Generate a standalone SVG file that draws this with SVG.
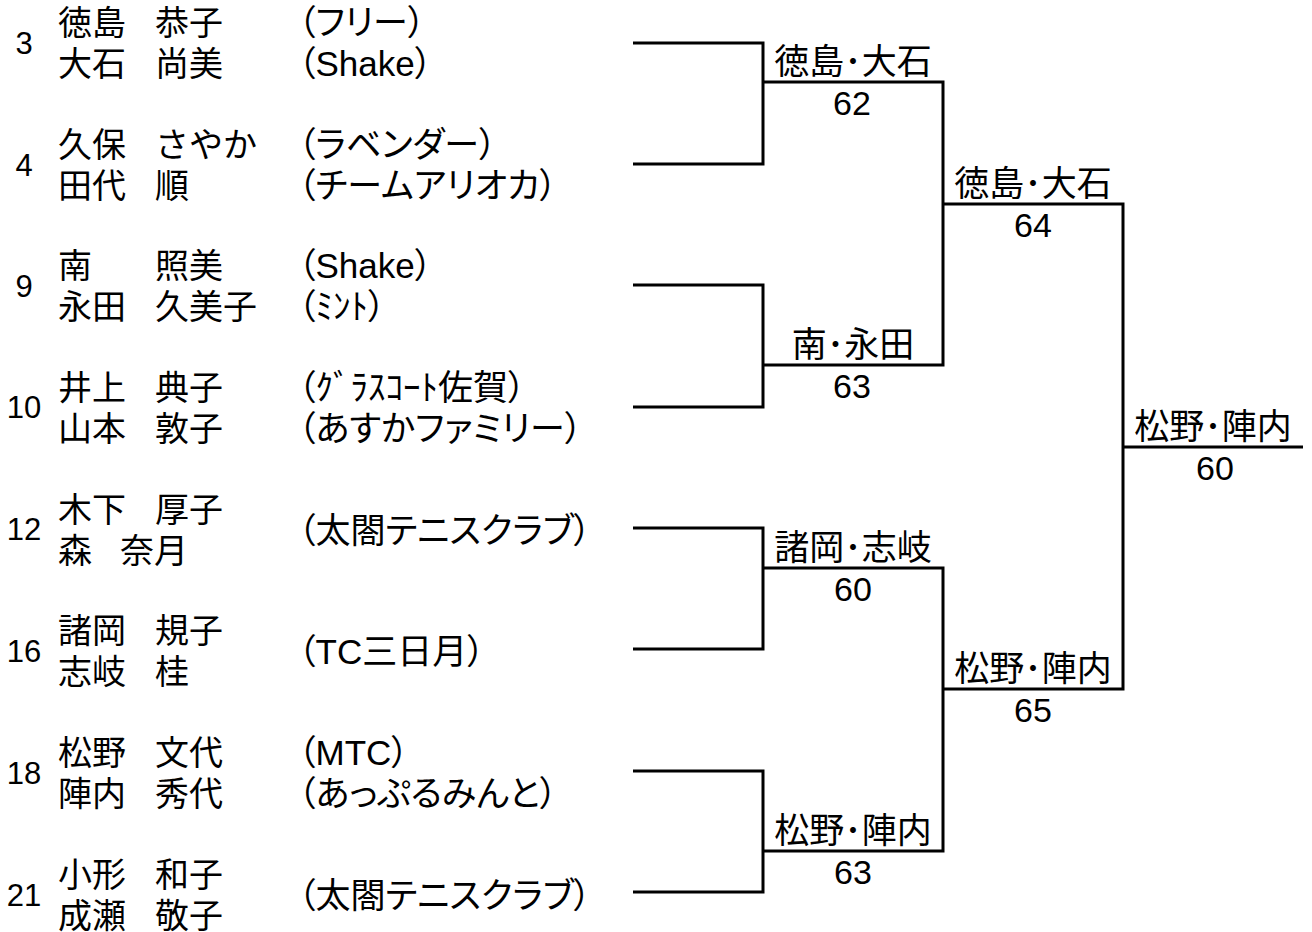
<svg xmlns="http://www.w3.org/2000/svg" width="1312" height="932" viewBox="0 0 1312 932">
<style>
text{fill:#000;font-family:"Liberation Sans","Noto Sans CJK JP",sans-serif}
.num{font-size:31px;text-anchor:middle}
.nm{font-size:34px;font-family:"Noto Sans CJK JP",sans-serif}
.af{font-size:35px;font-feature-settings:"palt"}
.win{font-size:35px;text-anchor:middle;font-family:"Noto Sans CJK JP",sans-serif}
.sc{font-size:34px;text-anchor:middle}
#connectors path{fill:none;stroke:#000;stroke-width:3;stroke-linejoin:miter;stroke-linecap:butt}
</style>
<rect width="1312" height="932" fill="#fff"/>
<g id="connectors">
<path d="M633 43H763V164H633"/>
<path d="M633 285H763V407H633"/>
<path d="M633 528H763V649H633"/>
<path d="M633 771H763V892H633"/>
<path d="M763 82H943V365H763"/>
<path d="M763 568H943V851H763"/>
<path d="M943 204H1123V689H943"/>
<path d="M1123 447H1303"/>
</g>
<g id="entry-3">
<text class="num" x="24" y="54">3</text>
<text class="nm" x="58" y="35">徳島 <tspan x="155">恭子</tspan></text>
<text class="nm" x="58" y="76">大石 <tspan x="155">尚美</tspan></text>
<text class="af" x="298" y="35">（フリー）</text>
<text class="af" x="298" y="76">（Shake）</text>
</g>
<g id="entry-4">
<text class="num" x="24" y="176">4</text>
<text class="nm" x="58" y="157">久保 <tspan x="155">さやか</tspan></text>
<text class="nm" x="58" y="198">田代 <tspan x="155">順</tspan></text>
<text class="af" x="298" y="157">（ラベンダー）</text>
<text class="af" x="298" y="198">（チームアリオカ）</text>
</g>
<g id="entry-9">
<text class="num" x="24" y="297">9</text>
<text class="nm" x="58" y="278">南 <tspan x="155">照美</tspan></text>
<text class="nm" x="58" y="319">永田 <tspan x="155">久美子</tspan></text>
<text class="af" x="298" y="278">（Shake）</text>
<text class="af" x="298" y="319">（ﾐﾝﾄ）</text>
</g>
<g id="entry-10">
<text class="num" x="24" y="418">10</text>
<text class="nm" x="58" y="400">井上 <tspan x="155">典子</tspan></text>
<text class="nm" x="58" y="441">山本 <tspan x="155">敦子</tspan></text>
<text class="af" x="298" y="400">（ｸﾞﾗｽｺｰﾄ佐賀）</text>
<text class="af" x="298" y="441">（あすかファミリー）</text>
</g>
<g id="entry-12">
<text class="num" x="24" y="540">12</text>
<text class="nm" x="58" y="522">木下 <tspan x="155">厚子</tspan></text>
<text class="nm" x="58" y="563">森 <tspan x="120">奈月</tspan></text>
<text class="af" x="298" y="543">（太閤テニスクラブ）</text>
</g>
<g id="entry-16">
<text class="num" x="24" y="662">16</text>
<text class="nm" x="58" y="643">諸岡 <tspan x="155">規子</tspan></text>
<text class="nm" x="58" y="684">志岐 <tspan x="155">桂</tspan></text>
<text class="af" x="298" y="664">（TC三日月）</text>
</g>
<g id="entry-18">
<text class="num" x="24" y="784">18</text>
<text class="nm" x="58" y="765">松野 <tspan x="155">文代</tspan></text>
<text class="nm" x="58" y="806">陣内 <tspan x="155">秀代</tspan></text>
<text class="af" x="298" y="765">（MTC）</text>
<text class="af" x="298" y="806">（あっぷるみんと）</text>
</g>
<g id="entry-21">
<text class="num" x="24" y="906">21</text>
<text class="nm" x="58" y="887">小形 <tspan x="155">和子</tspan></text>
<text class="nm" x="58" y="928">成瀬 <tspan x="155">敬子</tspan></text>
<text class="af" x="298" y="908">（太閤テニスクラブ）</text>
</g>
<g id="r2-tokushima-oishi">
<text class="win" x="853" y="74">徳島･大石</text>
<text class="sc" x="852" y="115">62</text>
</g>
<g id="r2-minami-nagata">
<text class="win" x="853" y="357">南･永田</text>
<text class="sc" x="852" y="398">63</text>
</g>
<g id="r2-morooka-shiki">
<text class="win" x="853" y="560">諸岡･志岐</text>
<text class="sc" x="853" y="601">60</text>
</g>
<g id="r2-matsuno-jinnai">
<text class="win" x="853" y="843">松野･陣内</text>
<text class="sc" x="853" y="884">63</text>
</g>
<g id="r3-tokushima-oishi">
<text class="win" x="1033" y="196">徳島･大石</text>
<text class="sc" x="1033" y="237">64</text>
</g>
<g id="r3-matsuno-jinnai">
<text class="win" x="1033" y="681">松野･陣内</text>
<text class="sc" x="1033" y="722">65</text>
</g>
<g id="final-matsuno-jinnai">
<text class="win" x="1213" y="439">松野･陣内</text>
<text class="sc" x="1215" y="480">60</text>
</g>
</svg>
